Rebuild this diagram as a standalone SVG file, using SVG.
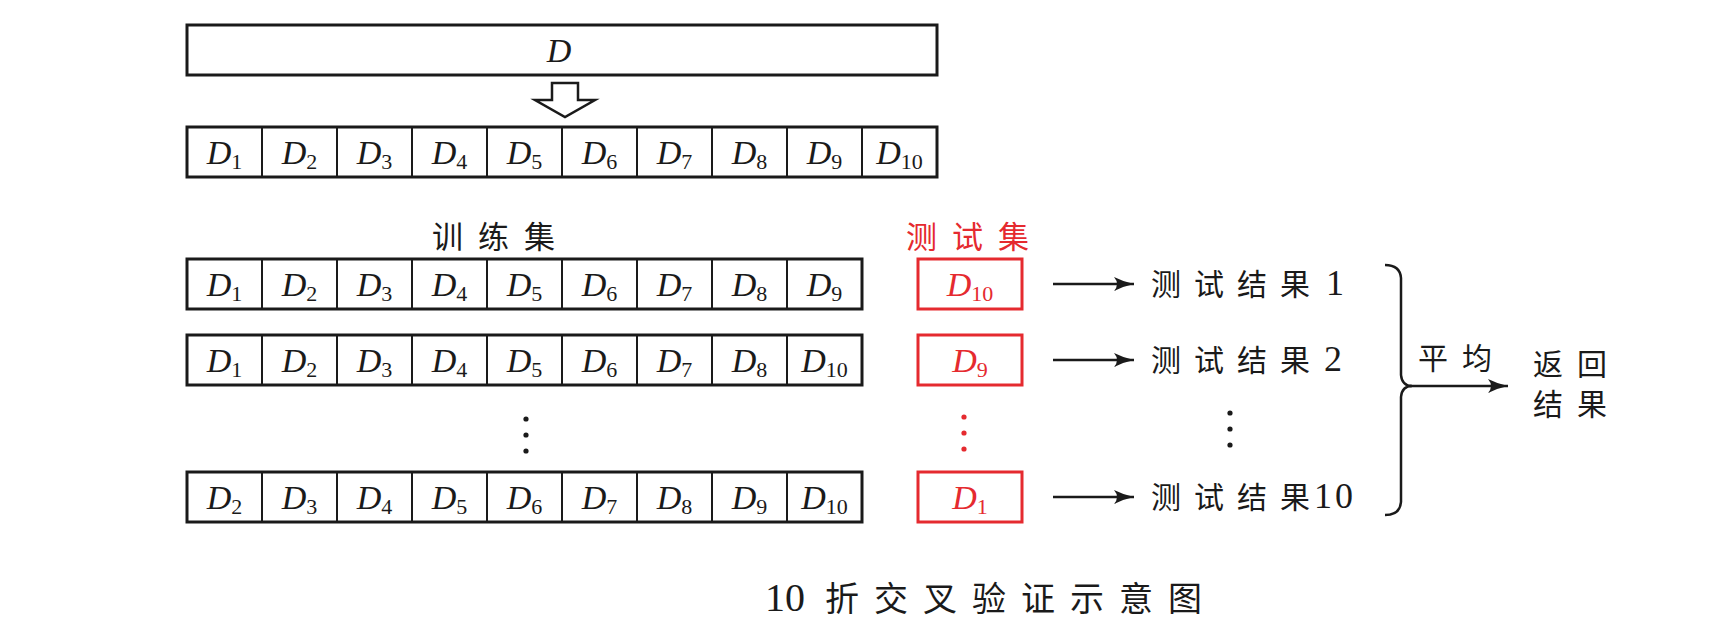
<svg xmlns="http://www.w3.org/2000/svg" width="1726" height="628" viewBox="0 0 1726 628">
<style>
.box{fill:#fff;stroke:#1a1a1a;stroke-width:3}
.sep{stroke:#1a1a1a;stroke-width:2}
.rbox{fill:#fff;stroke:#e52a2f;stroke-width:3}
.d{font-family:"Liberation Serif","DejaVu Serif",serif;font-size:34px;fill:#1a1a1a;text-anchor:middle}
.d .i{font-style:italic}
.d .s{font-size:22px}
.cjk{font-family:"Noto Sans CJK SC","Noto Sans",sans-serif;font-size:30px;fill:#1a1a1a;letter-spacing:13px}
.res{font-family:"Noto Sans CJK SC","Noto Sans",sans-serif;font-size:30px;fill:#1a1a1a}
.num{font-family:"Liberation Serif","DejaVu Serif",serif;font-size:36px;fill:#1a1a1a;letter-spacing:3px}
.conn{stroke:#1a1a1a;stroke-width:2.5;fill:none}
.red{fill:#e52a2f}
</style>
<defs>
<marker id="ah" markerWidth="22" markerHeight="16" refX="20" refY="8" orient="auto" markerUnits="userSpaceOnUse">
<path d="M0,1 Q10,6 20,8 Q10,10 0,15 Q6,8 0,1 Z" fill="#1a1a1a"/>
</marker>
</defs>

<g id="D-box">
<rect class="box" x="187" y="25" width="750" height="50"/>
<text class="d" x="559" y="62"><tspan class="i">D</tspan></text>
</g>

<g id="split-arrow">
<path d="M552,83 H578 V100 H595 L565,117 L535,100 H552 Z" fill="#fff" stroke="#1a1a1a" stroke-width="2.5" stroke-linejoin="miter"/>
</g>

<g id="folds">
<rect class="box" x="187" y="127" width="750" height="50"/>
<path class="sep" d="M262,127V177M337,127V177M412,127V177M487,127V177M562,127V177M637,127V177M712,127V177M787,127V177M862,127V177"/>
<text class="d" x="224.5" y="164"><tspan class="i">D</tspan><tspan class="s" dy="5">1</tspan></text>
<text class="d" x="299.5" y="164"><tspan class="i">D</tspan><tspan class="s" dy="5">2</tspan></text>
<text class="d" x="374.5" y="164"><tspan class="i">D</tspan><tspan class="s" dy="5">3</tspan></text>
<text class="d" x="449.5" y="164"><tspan class="i">D</tspan><tspan class="s" dy="5">4</tspan></text>
<text class="d" x="524.5" y="164"><tspan class="i">D</tspan><tspan class="s" dy="5">5</tspan></text>
<text class="d" x="599.5" y="164"><tspan class="i">D</tspan><tspan class="s" dy="5">6</tspan></text>
<text class="d" x="674.5" y="164"><tspan class="i">D</tspan><tspan class="s" dy="5">7</tspan></text>
<text class="d" x="749.5" y="164"><tspan class="i">D</tspan><tspan class="s" dy="5">8</tspan></text>
<text class="d" x="824.5" y="164"><tspan class="i">D</tspan><tspan class="s" dy="5">9</tspan></text>
<text class="d" x="899.5" y="164"><tspan class="i">D</tspan><tspan class="s" dy="5">10</tspan></text>
</g>

<g id="labels">
<text class="cjk" x="432" y="248" style="font-size:31px;letter-spacing:15px">训练集</text>
<text class="cjk red" x="906" y="248" style="font-size:31px;letter-spacing:15px">测试集</text>
</g>

<g id="train-1">
<rect class="box" x="187" y="259" width="675" height="50"/>
<path class="sep" d="M262,259V309M337,259V309M412,259V309M487,259V309M562,259V309M637,259V309M712,259V309M787,259V309"/>
<text class="d" x="224.5" y="296"><tspan class="i">D</tspan><tspan class="s" dy="5">1</tspan></text>
<text class="d" x="299.5" y="296"><tspan class="i">D</tspan><tspan class="s" dy="5">2</tspan></text>
<text class="d" x="374.5" y="296"><tspan class="i">D</tspan><tspan class="s" dy="5">3</tspan></text>
<text class="d" x="449.5" y="296"><tspan class="i">D</tspan><tspan class="s" dy="5">4</tspan></text>
<text class="d" x="524.5" y="296"><tspan class="i">D</tspan><tspan class="s" dy="5">5</tspan></text>
<text class="d" x="599.5" y="296"><tspan class="i">D</tspan><tspan class="s" dy="5">6</tspan></text>
<text class="d" x="674.5" y="296"><tspan class="i">D</tspan><tspan class="s" dy="5">7</tspan></text>
<text class="d" x="749.5" y="296"><tspan class="i">D</tspan><tspan class="s" dy="5">8</tspan></text>
<text class="d" x="824.5" y="296"><tspan class="i">D</tspan><tspan class="s" dy="5">9</tspan></text>
</g>
<g id="test-1">
<rect class="rbox" x="918" y="259" width="104" height="50"/>
<text class="d red" x="970" y="296"><tspan class="i">D</tspan><tspan class="s" dy="5">10</tspan></text>
</g>

<g id="train-2">
<rect class="box" x="187" y="335" width="675" height="50"/>
<path class="sep" d="M262,335V385M337,335V385M412,335V385M487,335V385M562,335V385M637,335V385M712,335V385M787,335V385"/>
<text class="d" x="224.5" y="372"><tspan class="i">D</tspan><tspan class="s" dy="5">1</tspan></text>
<text class="d" x="299.5" y="372"><tspan class="i">D</tspan><tspan class="s" dy="5">2</tspan></text>
<text class="d" x="374.5" y="372"><tspan class="i">D</tspan><tspan class="s" dy="5">3</tspan></text>
<text class="d" x="449.5" y="372"><tspan class="i">D</tspan><tspan class="s" dy="5">4</tspan></text>
<text class="d" x="524.5" y="372"><tspan class="i">D</tspan><tspan class="s" dy="5">5</tspan></text>
<text class="d" x="599.5" y="372"><tspan class="i">D</tspan><tspan class="s" dy="5">6</tspan></text>
<text class="d" x="674.5" y="372"><tspan class="i">D</tspan><tspan class="s" dy="5">7</tspan></text>
<text class="d" x="749.5" y="372"><tspan class="i">D</tspan><tspan class="s" dy="5">8</tspan></text>
<text class="d" x="824.5" y="372"><tspan class="i">D</tspan><tspan class="s" dy="5">10</tspan></text>
</g>
<g id="test-2">
<rect class="rbox" x="918" y="335" width="104" height="50"/>
<text class="d red" x="970" y="372"><tspan class="i">D</tspan><tspan class="s" dy="5">9</tspan></text>
</g>

<g id="ellipsis">
<circle cx="526" cy="419" r="2.6" fill="#1a1a1a"/>
<circle cx="526" cy="435" r="2.6" fill="#1a1a1a"/>
<circle cx="526" cy="451" r="2.6" fill="#1a1a1a"/>
<circle cx="964" cy="417" r="2.6" fill="#e52a2f"/>
<circle cx="964" cy="433" r="2.6" fill="#e52a2f"/>
<circle cx="964" cy="449" r="2.6" fill="#e52a2f"/>
<circle cx="1230" cy="413" r="2.6" fill="#1a1a1a"/>
<circle cx="1230" cy="429" r="2.6" fill="#1a1a1a"/>
<circle cx="1230" cy="445" r="2.6" fill="#1a1a1a"/>
</g>

<g id="train-10">
<rect class="box" x="187" y="472" width="675" height="50"/>
<path class="sep" d="M262,472V522M337,472V522M412,472V522M487,472V522M562,472V522M637,472V522M712,472V522M787,472V522"/>
<text class="d" x="224.5" y="509"><tspan class="i">D</tspan><tspan class="s" dy="5">2</tspan></text>
<text class="d" x="299.5" y="509"><tspan class="i">D</tspan><tspan class="s" dy="5">3</tspan></text>
<text class="d" x="374.5" y="509"><tspan class="i">D</tspan><tspan class="s" dy="5">4</tspan></text>
<text class="d" x="449.5" y="509"><tspan class="i">D</tspan><tspan class="s" dy="5">5</tspan></text>
<text class="d" x="524.5" y="509"><tspan class="i">D</tspan><tspan class="s" dy="5">6</tspan></text>
<text class="d" x="599.5" y="509"><tspan class="i">D</tspan><tspan class="s" dy="5">7</tspan></text>
<text class="d" x="674.5" y="509"><tspan class="i">D</tspan><tspan class="s" dy="5">8</tspan></text>
<text class="d" x="749.5" y="509"><tspan class="i">D</tspan><tspan class="s" dy="5">9</tspan></text>
<text class="d" x="824.5" y="509"><tspan class="i">D</tspan><tspan class="s" dy="5">10</tspan></text>
</g>
<g id="test-10">
<rect class="rbox" x="918" y="472" width="104" height="50"/>
<text class="d red" x="970" y="509"><tspan class="i">D</tspan><tspan class="s" dy="5">1</tspan></text>
</g>

<g id="result-1"><text class="res" x="1151 1194 1237 1280" y="295">测试结果<tspan class="num" x="1326">1</tspan></text></g>
<g id="result-2"><text class="res" x="1151 1194 1237 1280" y="371">测试结果<tspan class="num" x="1324">2</tspan></text></g>
<g id="result-10"><text class="res" x="1151 1194 1237 1280" y="508">测试结果<tspan class="num" x="1314">10</tspan></text></g>

<g id="average-label"><text class="cjk" x="1418" y="369" style="letter-spacing:14px">平均</text></g>
<g id="return-result">
<text class="cjk" x="1533" y="375" style="letter-spacing:14px">返回</text>
<text class="cjk" x="1533" y="415" style="letter-spacing:14px">结果</text>
</g>

<g id="connectors">
<line class="conn" x1="1053" y1="284" x2="1134" y2="284" marker-end="url(#ah)"/>
<line class="conn" x1="1053" y1="360" x2="1134" y2="360" marker-end="url(#ah)"/>
<line class="conn" x1="1053" y1="497" x2="1134" y2="497" marker-end="url(#ah)"/>
<path class="conn" d="M1385,265 Q1400,265 1401,278 V375 Q1402,386 1412,386 Q1402,386 1401,397 V502 Q1400,515 1385,515"/>
<line class="conn" x1="1410" y1="386" x2="1508" y2="386" marker-end="url(#ah)"/>
</g>

<g id="caption">
<text x="765" y="611"><tspan class="num" style="font-size:40px;letter-spacing:0">10</tspan><tspan class="cjk" x="825" style="font-size:34px;letter-spacing:15px">折交叉验证示意图</tspan></text>
</g>
</svg>
